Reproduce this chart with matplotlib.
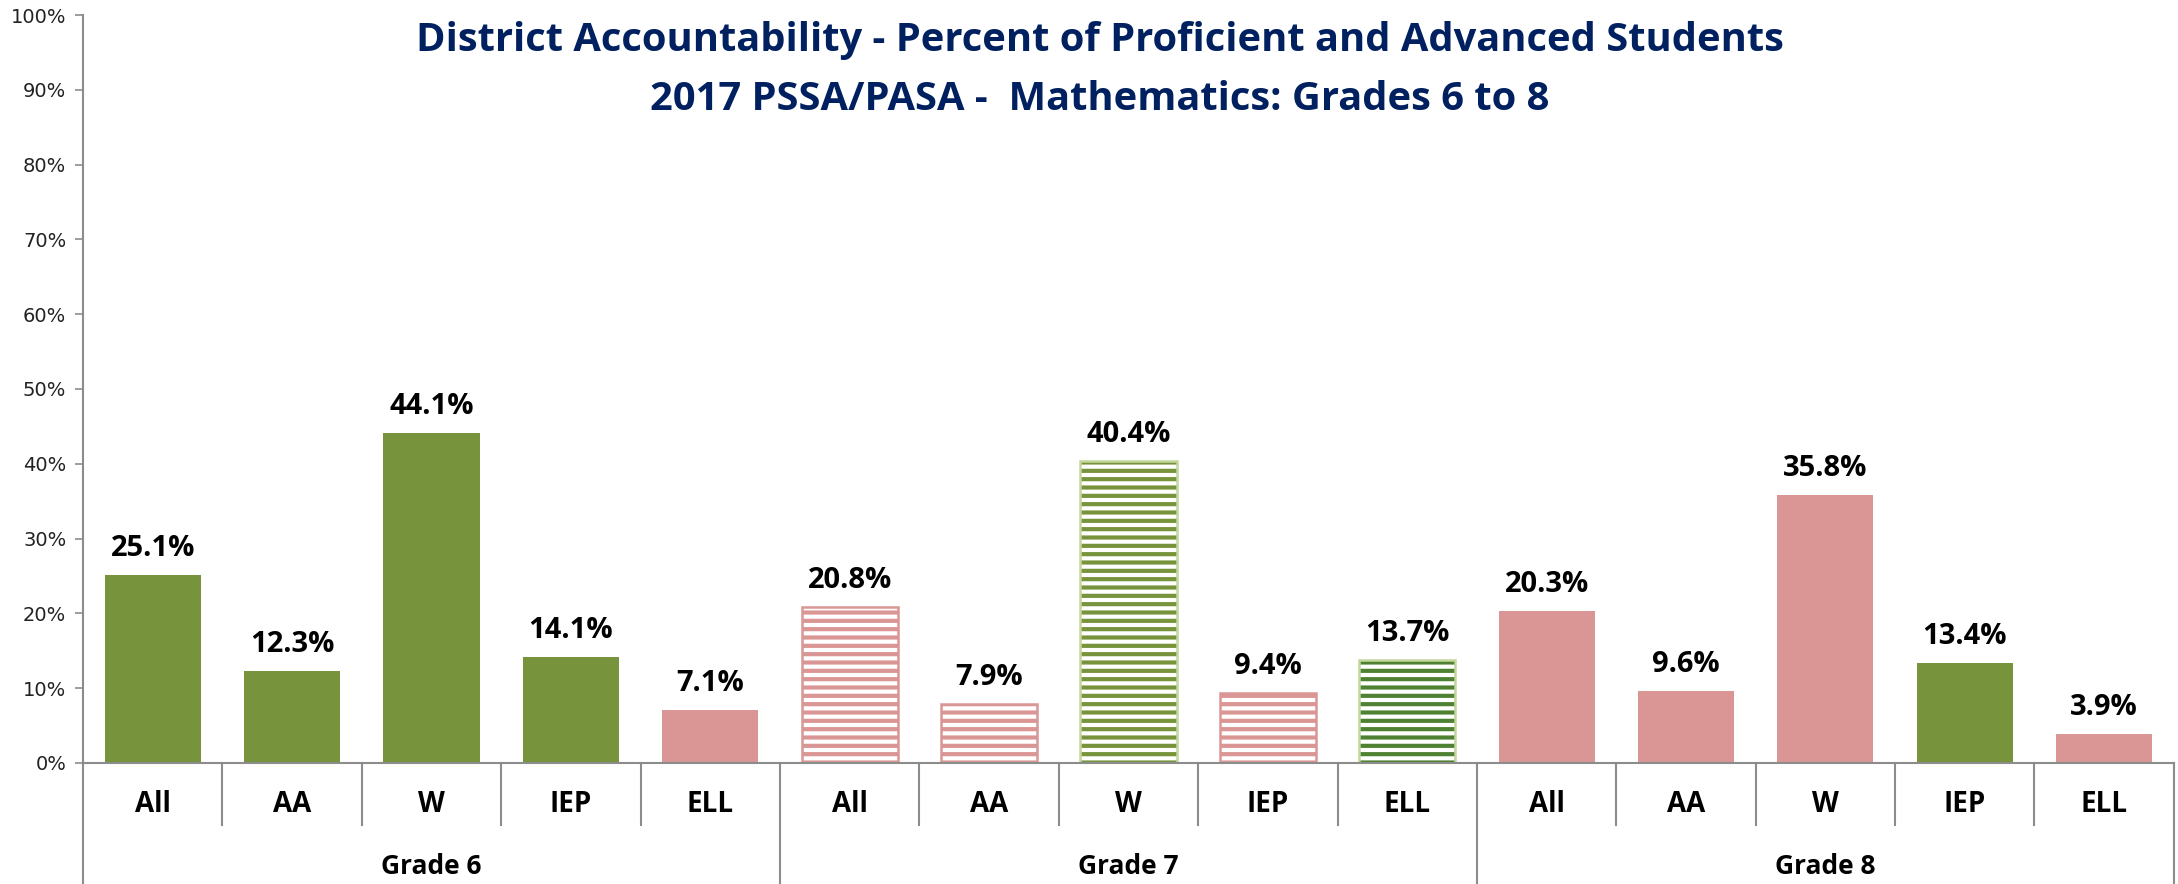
import matplotlib
matplotlib.use("Agg")
import matplotlib.pyplot as plt

# data
grades = ["Grade 6", "Grade 7", "Grade 8"]
groups = ["All", "AA", "W", "IEP", "ELL"]
values = [
    [25.1, 12.3, 44.1, 14.1, 7.1],
    [20.8, 7.9, 40.4, 9.4, 13.7],
    [20.3, 9.6, 35.8, 13.4, 3.9],
]
# bar style per bar: g = solid green, p = solid pink, hp = striped pink,
# hg = striped green, hd = striped dark green
styles = [
    ["g", "g", "g", "g", "p"],
    ["hp", "hp", "hg", "hp", "hd"],
    ["p", "p", "p", "g", "p"],
]
yticks = list(range(0, 101, 10))

GREEN = "#77933C"
PINK = "#D99694"
DARK_GREEN = "#4F8133"
LIGHT_GREEN = "#C3D69B"
AXIS = "#8C8C8C"
NAVY = "#002060"

plt.rcParams["hatch.linewidth"] = 3.0
FONT = "Open Sans"

fig = plt.figure(figsize=(21.78, 8.84), dpi=100)
ax = fig.add_axes([0.0381, 0.137, 0.9600, 0.846])

n_groups = len(groups)
width = 0.69
for gi, grade in enumerate(grades):
    for ci, grp in enumerate(groups):
        x = gi * n_groups + ci
        v = values[gi][ci]
        st = styles[gi][ci]
        if st == "g":
            ax.bar(x, v, width, color=GREEN, linewidth=0)
        elif st == "p":
            ax.bar(x, v, width, color=PINK, linewidth=0)
        else:
            stripe = {"hp": PINK, "hg": GREEN, "hd": DARK_GREEN}[st]
            border = {"hp": PINK, "hg": LIGHT_GREEN, "hd": LIGHT_GREEN}[st]
            ax.bar(x, v, width, facecolor="white", edgecolor=stripe,
                   hatch="--", linewidth=0)
            ax.bar(x, v, width, fill=False, edgecolor=border, linewidth=1.8)
        ax.text(x, v + 1.6, f"{v:.1f}%", ha="center", va="bottom",
                fontsize=21, fontweight="bold", family=FONT, color="black")

total = len(grades) * n_groups
ax.set_xlim(-0.5, total - 0.5)
ax.set_ylim(0, 100)
ax.set_yticks(yticks)
ax.set_yticklabels([f"{t}%" for t in yticks], fontsize=14, color="#222222")
ax.tick_params(axis="y", length=6, width=1.2, color=AXIS, pad=6)
ax.set_xticks([])

for side in ["top", "right"]:
    ax.spines[side].set_visible(False)
ax.spines["left"].set_color(AXIS)
ax.spines["left"].set_linewidth(1.5)
ax.spines["bottom"].set_color(AXIS)
ax.spines["bottom"].set_linewidth(1.5)

# two-level category axis drawn below the plot area
trans = ax.get_xaxis_transform()
for k in range(total + 1):
    xb = k - 0.5
    is_group = (k % n_groups == 0)
    y_end = -0.165 if is_group else -0.083
    ax.plot([xb, xb], [0, y_end], transform=trans, color=AXIS,
            linewidth=1.5, clip_on=False)
for gi, grade in enumerate(grades):
    for ci, grp in enumerate(groups):
        x = gi * n_groups + ci
        ax.text(x, -0.056, grp, transform=trans, ha="center", va="center",
                fontsize=20, fontweight="bold", family=FONT)
    ax.text(gi * n_groups + (n_groups - 1) / 2, -0.139, grade, transform=trans,
            ha="center", va="center", fontsize=19, fontweight="bold", family=FONT)

fig.text(0.505, 0.954, "District Accountability - Percent of Proficient and Advanced Students",
         ha="center", va="center", fontsize=28.7, fontweight="bold", family=FONT, color=NAVY)
fig.text(0.505, 0.887, "2017 PSSA/PASA -  Mathematics: Grades 6 to 8",
         ha="center", va="center", fontsize=28.7, fontweight="bold", family=FONT, color=NAVY)

fig.savefig("out.png", dpi=100)
